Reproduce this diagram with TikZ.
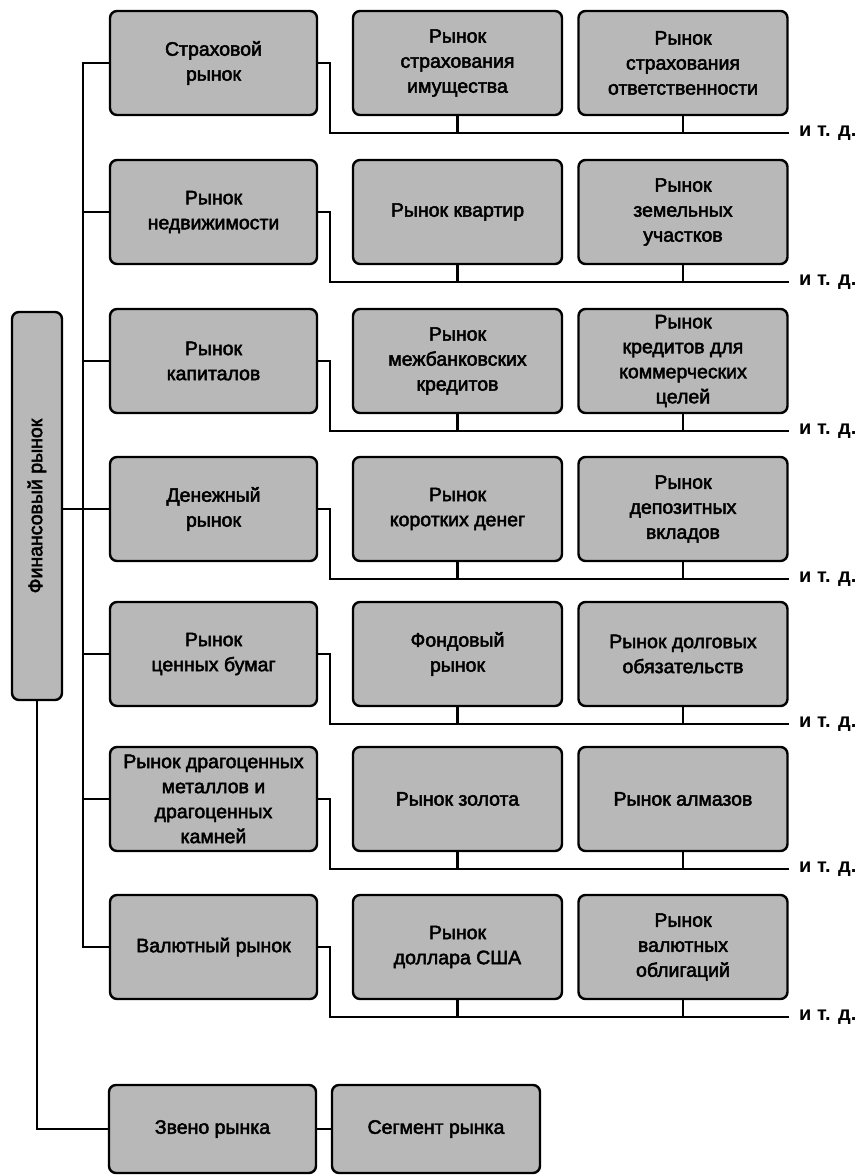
\documentclass[tikz,border=0pt]{standalone}
\usepackage{fontspec}
\setmainfont{Liberation Sans}
\newfontfamily\labelfont{Liberation Sans}[FakeBold=2.5]
\usetikzlibrary{calc}
\begin{document}
\begin{tikzpicture}[x=1pt,y=-1pt,
  box/.style={draw=black, line width=2.4pt, rounded corners=7pt,
    fill={rgb,255:red,184;green,184;blue,184}, align=center,
    inner sep=2pt, font=\labelfont\fontsize{19.5}{25}\selectfont},
  mainbox/.style={box, minimum width=207pt, minimum height=104pt},
  subbox/.style={box, minimum width=209pt, minimum height=104pt},
  wire/.style={line width=2.2pt, line cap=rect},
  etc/.style={anchor=west, inner sep=0pt, font=\fontsize{20}{24}\selectfont\bfseries}]
\useasboundingbox (0,0) rectangle (861,1175);

% root, set vertically
\node[box, minimum width=388pt, minimum height=50pt, rotate=90] (fin) at (37,506) {Финансовый рынок};

% first-level markets
\node[mainbox] (m1) at (213.5,63)  {Страховой\\рынок};
\node[mainbox] (m2) at (213.5,212) {Рынок\\недвижимости};
\node[mainbox] (m3) at (213.5,361) {Рынок\\капиталов};
\node[mainbox] (m4) at (213.5,509) {Денежный\\рынок};
\node[mainbox] (m5) at (213.5,654) {Рынок\\ценных бумаг};
\node[mainbox] (m6) at (213.5,799) {Рынок драгоценных\\металлов и\\драгоценных\\камней};
\node[mainbox] (m7) at (213.5,947) {Валютный рынок};

% second-level markets
\node[subbox] (a1) at (457.5,63)  {Рынок\\страхования\\имущества};
\node[subbox] (b1) at (683,63)    {Рынок\\страхования\\ответственности};
\node[subbox] (a2) at (457.5,212) {Рынок квартир};
\node[subbox] (b2) at (683,212)   {Рынок\\земельных\\участков};
\node[subbox] (a3) at (457.5,361) {Рынок\\межбанковских\\кредитов};
\node[subbox] (b3) at (683,361)   {Рынок\\кредитов для\\коммерческих\\целей};
\node[subbox] (a4) at (457.5,509) {Рынок\\коротких денег};
\node[subbox] (b4) at (683,509)   {Рынок\\депозитных\\вкладов};
\node[subbox] (a5) at (457.5,654) {Фондовый\\рынок};
\node[subbox] (b5) at (683,654)   {Рынок долговых\\обязательств};
\node[subbox] (a6) at (457.5,799) {Рынок золота};
\node[subbox] (b6) at (683,799)   {Рынок алмазов};
\node[subbox] (a7) at (457.5,947) {Рынок\\доллара США};
\node[subbox] (b7) at (683,947)   {Рынок\\валютных\\облигаций};

% link and segment
\node[mainbox, minimum height=88pt] (zv) at (212.5,1129) {Звено рынка};
\node[mainbox, minimum width=208pt, minimum height=88pt] (sg) at (436,1129) {Сегмент рынка};

% trunk and drop positions
\coordinate (trunk) at (83,0);
\coordinate (drop) at (330,0);

% trunk feeding the first-level markets
\draw[wire] (m1.west) -- (m1.west -| trunk) -- (m7.west -| trunk) -- (m7.west);
\foreach \m in {m2,m3,m5,m6} \draw[wire] (\m.west) -- (\m.west -| trunk);
\draw[wire] (m4.west) -- (m4.west -| fin.south);

% root down to the link
\draw[wire] (fin.west) -- (fin.west |- zv.west) -- (zv.west);
\draw[wire] (zv.east) -- (sg.west);

% buses under each row, each ending with "и т. д."
\foreach \i in {1,...,7} {
  \coordinate (e\i) at ($(m\i.center)+(574.5,70)$);
  \draw[wire] (m\i.east) -- (m\i.east -| drop) |- (e\i);
  \draw[wire] (a\i.south) -- (a\i.south |- e\i);
  \draw[wire] (b\i.south) -- (b\i.south |- e\i);
  \node[etc] (t\i) at ($(e\i)+(11,0)$) {и т. д.};
}
\end{tikzpicture}
\end{document}
